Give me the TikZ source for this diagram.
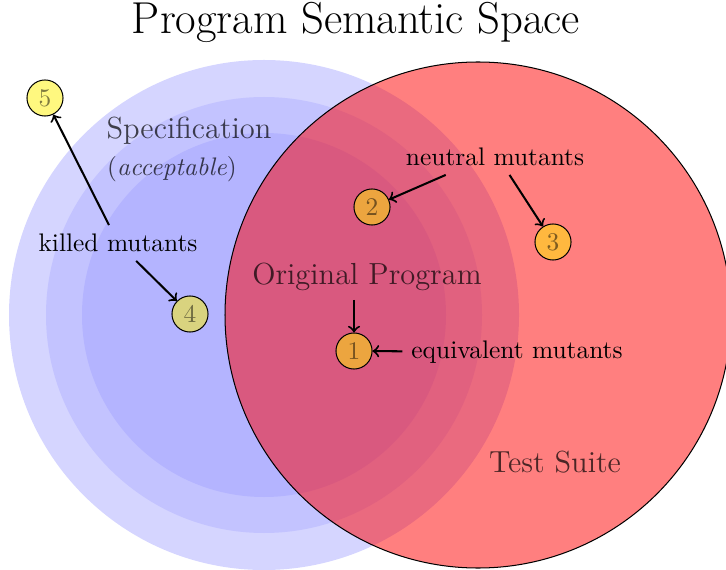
\documentclass[tikz,border=0pt]{standalone}
\usetikzlibrary{calc}
\definecolor{blueA}{RGB}{213,213,255}
\definecolor{blueB}{RGB}{195,195,255}
\definecolor{blueC}{RGB}{180,180,255}
\begin{document}
\begin{tikzpicture}[x=0.3937pt,y=-0.3937pt,
  mut/.style={circle,draw=black,fill=yellow,fill opacity=0.5,text opacity=0.5,draw opacity=1,minimum size=14.2pt,inner sep=0pt},
  region/.style={font=\large,text opacity=0.7},
  arr/.style={->,thick}]
\useasboundingbox (0,0) rectangle (726,569);
% specification circles
\fill[blueA] (264,315) circle[radius=255];
\fill[blueB] (264,315) circle[radius=218];
\fill[blueC] (264,315) circle[radius=182];
% test suite
\filldraw[fill=red,fill opacity=0.5,draw=black] (478,315) circle[radius=253];
% title
\node (title) at (356,22) {\fontsize{17.6}{21}\selectfont Program Semantic Space};
% region labels
\node[region] (spec) at (189,131) {Specification};
\node[text opacity=0.7] (acc) at (172,169) {(\textit{acceptable})};
\node[region] (orig) at (367,277) {Original Program};
\node[region] (ts) at (555,462) {Test Suite};
% mutants
\node[mut] (n5) at (45,98) {5};
\node[mut] (n2) at (372,207) {2};
\node[mut] (n3) at (553,242) {3};
\node[mut] (n4) at (190,314) {4};
\node[mut] (n1) at (354,351) {1};
% labels
\node (killed) at (118,243) {killed mutants};
\node (neutral) at (495,157) {neutral mutants};
\node (equiv) at (517,352) {equivalent mutants};
% arrows
\draw[arr] (killed) -- (n5);
\draw[arr] (killed) -- (n4);
\draw[arr] (neutral.-160) -- (n2);
\draw[arr] (neutral.-51) -- (n3);
\draw[arr] (orig.south -| n1) -- (n1);
\draw[arr] (equiv) -- (n1);
\end{tikzpicture}
\end{document}
